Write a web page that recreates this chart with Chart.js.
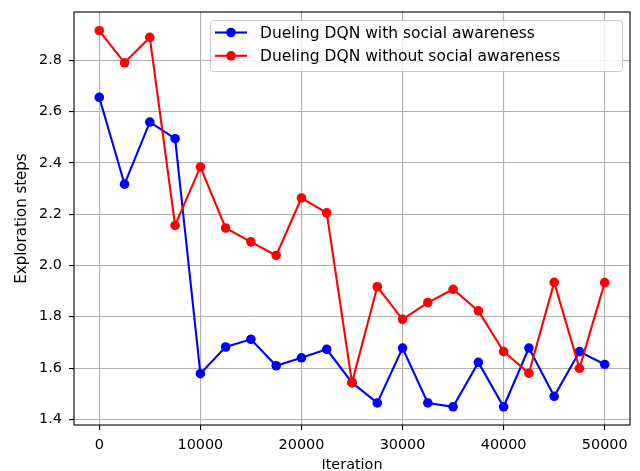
<!DOCTYPE html>
<html>
<head>
<meta charset="utf-8">
<script src="https://cdn.jsdelivr.net/npm/chart.js@4/dist/chart.umd.min.js"></script>
<style>
  html, body { margin: 0; padding: 0; background: #fff; }
  #wrap { width: 640px; height: 471px; }
</style>
</head>
<body>
<div id="wrap"><canvas id="chart" width="640" height="471"></canvas></div>
<script>
// data
const iterations = [0, 2500, 5000, 7500, 10000, 12500, 15000, 17500, 20000, 22500, 25000,
  27500, 30000, 32500, 35000, 37500, 40000, 42500, 45000, 47500, 50000];
const withSocial = [2.655, 2.317, 2.559, 2.494, 1.578, 1.682, 1.712, 1.609, 1.640, 1.673, 1.543,
  1.464, 1.678, 1.464, 1.449, 1.622, 1.449, 1.678, 1.490, 1.664, 1.614];
const withoutSocial = [2.915, 2.790, 2.889, 2.156, 2.384, 2.146, 2.092, 2.039, 2.263, 2.205, 1.543,
  1.917, 1.790, 1.855, 1.907, 1.823, 1.664, 1.580, 1.934, 1.599, 1.933];
const xTicks = [0, 10000, 20000, 30000, 40000, 50000];
const yTicks = [1.4, 1.6, 1.8, 2.0, 2.2, 2.4, 2.6, 2.8];
const seriesNames = ['Dueling DQN with social awareness', 'Dueling DQN without social awareness'];
const seriesColors = ['#0000ff', '#ff0000'];

const FONT = 'DejaVu Sans';
const FS = 14.4;      // ticks + axis titles
const LEGEND_FS = 15.5;

// matplotlib style frame + legend inside plot area
const framePlugin = {
  id: 'frame',
  afterDraw(chart) {
    const ctx = chart.ctx;
    const a = chart.chartArea;
    ctx.save();
    ctx.strokeStyle = '#000';
    ctx.lineWidth = 1.1;
    ctx.strokeRect(a.left, a.top, a.right - a.left, a.bottom - a.top);

    // legend box
    const bx = 210, by = 20, bw = 412, bh = 51;
    ctx.fillStyle = 'rgba(255,255,255,0.8)';
    ctx.strokeStyle = '#cccccc';
    ctx.lineWidth = 1;
    ctx.beginPath();
    ctx.roundRect(bx + 0.5, by + 0.5, bw, bh, 3);
    ctx.fill();
    ctx.stroke();

    ctx.font = LEGEND_FS + 'px "' + FONT + '"';
    ctx.textBaseline = 'middle';
    seriesNames.forEach((name, i) => {
      const y = 32.5 + i * 23.3;
      ctx.strokeStyle = seriesColors[i];
      ctx.lineWidth = 2.1;
      ctx.beginPath();
      ctx.moveTo(215, y);
      ctx.lineTo(247, y);
      ctx.stroke();
      ctx.fillStyle = seriesColors[i];
      ctx.beginPath();
      ctx.arc(231, y, 4.8, 0, Math.PI * 2);
      ctx.fill();
      ctx.fillStyle = '#000';
      ctx.fillText(name, 260, y + 1);
    });
    ctx.restore();
  }
};

const ctx = document.getElementById('chart').getContext('2d');
new Chart(ctx, {
  type: 'line',
  data: {
    datasets: [
      {
        label: seriesNames[0],
        data: iterations.map((x, i) => ({ x: x, y: withSocial[i] })),
        borderColor: seriesColors[0],
        backgroundColor: seriesColors[0],
        borderWidth: 2.1,
        pointRadius: 4.8,
        pointBorderWidth: 0,
        tension: 0,
        order: 1
      },
      {
        label: seriesNames[1],
        data: iterations.map((x, i) => ({ x: x, y: withoutSocial[i] })),
        borderColor: seriesColors[1],
        backgroundColor: seriesColors[1],
        borderWidth: 2.1,
        pointRadius: 4.8,
        pointBorderWidth: 0,
        tension: 0,
        order: 0
      }
    ]
  },
  options: {
    responsive: false,
    animation: false,
    layout: { padding: { top: 12, right: 10, left: 0, bottom: 0 } },
    plugins: {
      legend: { display: false },
      tooltip: { enabled: false }
    },
    scales: {
      x: {
        type: 'linear',
        min: -2500,
        max: 52500,
        afterBuildTicks: s => { s.ticks = xTicks.map(v => ({ value: v })); },
        afterFit: s => { s.height = 46; s.paddingLeft = 0; s.paddingRight = 0; },
        ticks: {
          color: '#000',
          font: { family: FONT, size: FS },
          padding: 7,
          maxRotation: 0,
          callback: v => String(v)
        },
        grid: { color: '#b0b0b0', lineWidth: 1.1, tickLength: 5, tickColor: '#000' },
        border: { display: false },
        title: {
          display: true,
          text: 'Iteration',
          color: '#000',
          font: { family: FONT, size: FS, lineHeight: 1.0 },
          padding: { top: 0, bottom: -1 }
        }
      },
      y: {
        min: 1.378,
        max: 2.988,
        afterBuildTicks: s => { s.ticks = yTicks.map(v => ({ value: v })); },
        afterFit: s => { s.width = 74; s.paddingTop = 0; s.paddingBottom = 0; },
        ticks: {
          color: '#000',
          font: { family: FONT, size: FS },
          padding: 7,
          callback: v => Number(v).toFixed(1)
        },
        grid: { color: '#b0b0b0', lineWidth: 1.1, tickLength: 5, tickColor: '#000' },
        border: { display: false },
        title: {
          display: true,
          text: 'Exploration steps',
          color: '#000',
          font: { family: FONT, size: 15, lineHeight: 1.0 },
          padding: { top: 15, bottom: 0 }
        }
      }
    }
  },
  plugins: [framePlugin]
});
</script>
</body>
</html>
